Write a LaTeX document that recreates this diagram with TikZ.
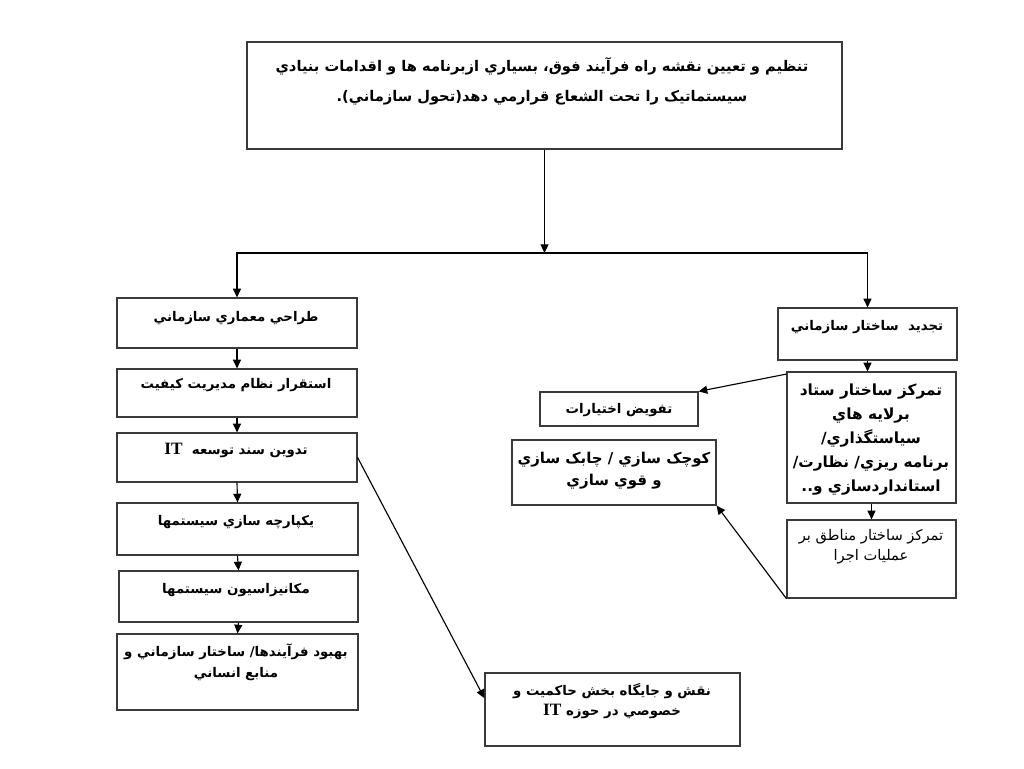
\documentclass[tikz,border=0pt]{standalone}
\usepackage{fontspec}
\usetikzlibrary{arrows.meta,fit}
\TeXXeTstate=1
\newfontfamily\arabicfont[Script=Arabic]{DejaVu Sans}
\newfontfamily\latinserif{Liberation Serif}
\newcommand{\myrtl}[1]{\beginR#1\endR}
\newcommand{\myIT}{\beginL{\latinserif\bfseries\fontsize{13pt}{13pt}\selectfont IT}\endL}
\definecolor{boxgray}{HTML}{3A3A3A}
\begin{document}
\begin{tikzpicture}[x=0.75pt,y=-0.75pt,
  box/.style={draw=boxgray, line width=0.9pt, inner sep=0pt},
  arr/.style={draw=black, line width=0.85pt, -{Triangle[length=6.5pt,width=6pt]}},
  txt/.style={align=center, inner sep=0pt, font=\arabicfont\bfseries\fontsize{10pt}{18pt}\selectfont},
  big/.style={txt, font=\arabicfont\bfseries\fontsize{11pt}{22.5pt}\selectfont},
  small/.style={txt, font=\arabicfont\fontsize{11pt}{15pt}\selectfont}]
\useasboundingbox (0,0) rectangle (1024,768);
\fill[white] (0,0) rectangle (1024,768);
% boxes
\node[box, fit={(247,42) (842,149)}] (top) {};
\node[box, fit={(117,298) (357,348)}] (l1) {};
\node[box, fit={(117,369) (357,417)}] (l2) {};
\node[box, fit={(117,433) (357,482)}] (l3) {};
\node[box, fit={(117,503) (358,555)}] (l4) {};
\node[box, fit={(119,571) (358,622)}] (l5) {};
\node[box, fit={(117,634) (358,710)}] (l6) {};
\node[box, fit={(485,673) (740,746)}] (b) {};
\node[box, fit={(540,392) (698,426)}] (m1) {};
\node[box, fit={(512,440) (716,505)}] (m2) {};
\node[box, fit={(778,308) (957,360)}] (r1) {};
\node[box, fit={(787,372) (956,503)}] (r2) {};
\node[box, fit={(787,520) (956,598)}] (r3) {};
% texts
\node[big] (toptxt) at (542,81) {\myrtl{تنظيم و تعيين نقشه راه فرآيند فوق، بسياري ازبرنامه ها و اقدامات بنيادي}\\ \myrtl{سيستماتيک را تحت الشعاع قرارمي دهد(تحول سازماني).}};
\node[txt] (l1txt) at (236,318) {\myrtl{طراحي معماري سازماني}};
\node[txt] (l2txt) at (236,385) {\myrtl{استقرار نظام مديريت كيفيت}};
\node[txt] (l3txt) at (236,450) {\myrtl{تدوين سند توسعه \ \myIT}};
\node[txt] (l4txt) at (236,522) {\myrtl{يکپارچه سازي سيستمها}};
\node[txt] (l5txt) at (236,590) {\myrtl{مكانيزاسيون سيستمها}};
\node[txt, font=\arabicfont\bfseries\fontsize{10pt}{16pt}\selectfont] (l6txt) at (236,662) {\myrtl{بهبود فرآيندها/ ساختار سازماني و}\\ \myrtl{منابع انساني}};
\node[txt, font=\arabicfont\bfseries\fontsize{10pt}{15pt}\selectfont] (btxt) at (612,701) {\myrtl{نقش و جايگاه بخش حاكميت و}\\ \myrtl{خصوصي در حوزه \myIT}};
\node[txt] (m1txt) at (619,410) {\myrtl{تفويض اختيارات}};
\node[txt, font=\arabicfont\bfseries\fontsize{11.2pt}{16.5pt}\selectfont] (m2txt) at (614,471) {\myrtl{كوچک سازي / چابک سازي}\\ \myrtl{و قوي سازي}};
\node[txt] (r1txt) at (867,327) {\myrtl{تجديد \ ساختار سازماني}};
\node[txt, font=\arabicfont\bfseries\fontsize{11.5pt}{18pt}\selectfont] (r2txt) at (871,440) {\myrtl{تمركز ساختار ستاد}\\ \myrtl{برلايه هاي}\\ \myrtl{سياستگذاري/}\\ \myrtl{برنامه ريزي/ نظارت/}\\ \myrtl{استانداردسازي و..}};
\node[small] (r3txt) at (871,547) {\myrtl{تمركز ساختار مناطق بر}\\ \myrtl{عمليات اجرا}};
% connectors
\coordinate (split) at (544,253);
\draw[arr] (top.south) -- (top.south |- split);
\draw[arr] (top.south |- split) -| (l1.north);
\draw[arr] (top.south |- split) -| (r1.north);
\draw[arr] (l1.south) -- (l2.north);
\draw[arr] (l2.south) -- (l3.north);
\draw[arr] (l3.south) -- (l4.north);
\draw[arr] (l4.south) -- (l5.north);
\draw[arr] (l5.south) -- (l6.north);
\draw[arr] (l3.east) -- ([yshift=8.5pt]b.west);
\draw[arr] (r1.south) -- (r1.south |- r2.north);
\draw[arr] (r2.south) -- (r2.south |- r3.north);
\draw[arr] ([yshift=-2pt]r2.north west) -- (m1.north east);
\draw[arr] (r3.south west) -- (m2.south east);
\end{tikzpicture}
\end{document}
